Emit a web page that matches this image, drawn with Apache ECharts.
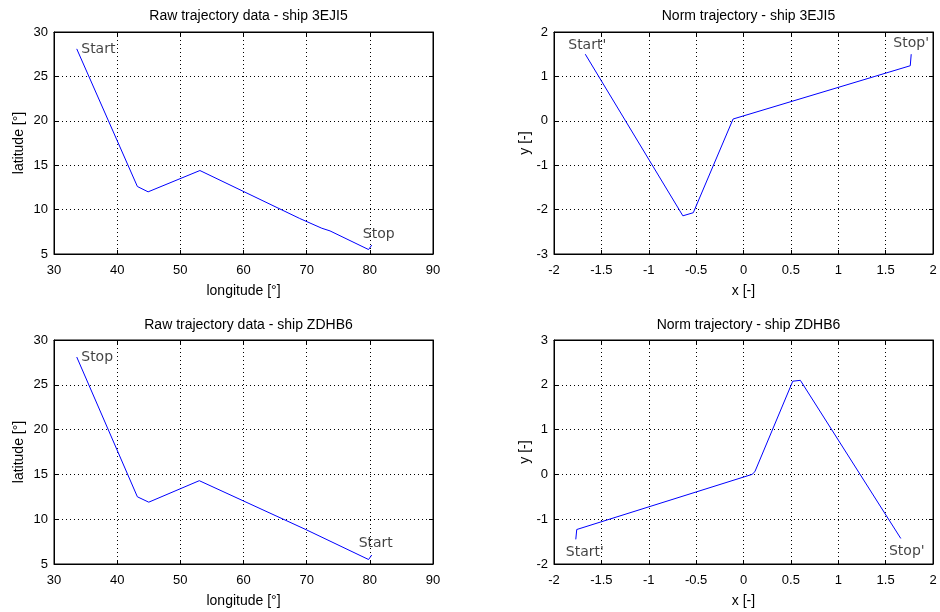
<!DOCTYPE html>
<html lang="en">
<head>
    <meta charset="UTF-8">
    <title>Trajectories</title>
    <script src="https://cdn.jsdelivr.net/npm/echarts@6/dist/echarts.min.js"></script>
</head>
<body style="margin:0;background:#fff">
<div id="echart" style="width:940px;height:612px"></div>
<script>
    // raw trajectory, ship 3EJI5
    var rawLonA = [33.6, 43.2, 44.9, 53.1, 68.9, 72.4, 73.7, 79.8, 80.3]
    var rawLatA = [28.1, 12.6, 12.0, 14.4, 9.0, 7.9, 7.6, 5.5, 6.0]
    // raw trajectory, ship ZDHB6
    var rawLonB = [33.6, 43.2, 45.0, 53.0, 70.0, 79.8, 80.3]
    var rawLatB = [28.1, 12.5, 11.9, 14.3, 8.8, 5.5, 6.0]
    // normalised trajectory, ship 3EJI5
    var normXA = [-1.67, -0.64, -0.53, -0.11, 1.76, 1.77]
    var normYA = [1.5, -2.14, -2.07, 0.04, 1.24, 1.5]
    // normalised trajectory, ship ZDHB6
    var normXB = [-1.77, -1.76, 0.09, 0.12, 0.52, 0.6, 1.66]
    var normYB = [-1.45, -1.23, 0.0, 0.06, 2.08, 2.1, -1.43]

    var titles = ['Raw trajectory data - ship 3EJI5', 'Norm trajectory - ship 3EJI5',
                  'Raw trajectory data - ship ZDHB6', 'Norm trajectory - ship ZDHB6']
    var endLabels = [['Start', 'Stop'], ["Start'", "Stop'"], ['Stop', 'Start'], ["Start'", "Stop'"]]

    var font = 'Liberation Sans'
    var labelFont = 'DejaVu Sans'
    var grids = [
        {left: 54, top: 32, width: 379, height: 222, titleTop: 4},
        {left: 554, top: 32, width: 379, height: 222, titleTop: 4},
        {left: 54, top: 340, width: 379, height: 224, titleTop: 313},
        {left: 554, top: 340, width: 379, height: 224, titleTop: 313}
    ]
    // [xmin, xmax, xstep, ymin, ymax, ystep, xname, yname, ynameGap]
    var axes = [
        [30, 90, 10, 5, 30, 5, 'longitude [°]', 'latitude [°]', 28],
        [-2, 2, 0.5, -3, 2, 1, 'x [-]', 'y [-]', 20],
        [30, 90, 10, 5, 30, 5, 'longitude [°]', 'latitude [°]', 28],
        [-2, 2, 0.5, -2, 3, 1, 'x [-]', 'y [-]', 20]
    ]
    // where the end labels sit: [position, offset] for first and last point
    var labelPos = [
        [['right', [1, 0]], ['top', [7, 0]]],
        [['top', [2, 2]], ['top', [0, 0]]],
        [['right', [1, 0]], ['top', [4, -1]]],
        [['bottom', [9, 2]], ['bottom', [6, 2]]]
    ]
    var xs = [rawLonA, normXA, rawLonB, normXB]
    var ys = [rawLatA, normYA, rawLatB, normYB]

    function line(k) {
        var d = []
        for (var i = 0; i < xs[k].length; i++) d.push([xs[k][i], ys[k][i]])
        return d
    }

    function ends(k) {
        var n = xs[k].length
        return [0, n - 1].map(function (i, w) {
            return {
                value: [xs[k][i], ys[k][i]],
                label: {
                    show: true,
                    formatter: endLabels[k][w],
                    position: labelPos[k][w][0],
                    offset: labelPos[k][w][1],
                    distance: 3,
                    color: '#111',
                    fontSize: 14,
                    fontFamily: labelFont
                }
            }
        })
    }

    var dotted = {color: '#000', width: 1, type: [1, 3]}
    var tick = {show: true, inside: true, length: 4, lineStyle: {color: '#000'}}
    var option = {
        animation: false,
        backgroundColor: '#fff',
        title: [], grid: [], xAxis: [], yAxis: [], series: []
    }
    for (var k = 0; k < 4; k++) {
        var g = grids[k], a = axes[k]
        option.title.push({
            text: titles[k],
            left: g.left + g.width / 2,
            textAlign: 'center',
            top: g.titleTop,
            textStyle: {fontSize: 14, fontWeight: 'normal', color: '#000', fontFamily: font}
        })
        option.grid.push({left: g.left, top: g.top, width: g.width, height: g.height,
            show: true, borderColor: '#000', borderWidth: 1, backgroundColor: '#fff'})
        option.xAxis.push({
            type: 'value', gridIndex: k, min: a[0], max: a[1], interval: a[2],
            name: a[6], nameLocation: 'middle', nameGap: 30,
            nameTextStyle: {fontSize: 14, color: '#000', fontFamily: font},
            axisLine: {show: true, onZero: false, lineStyle: {color: '#000'}},
            axisTick: tick,
            axisLabel: {fontSize: 13, color: '#000', fontFamily: font, margin: 10},
            splitLine: {show: true, lineStyle: dotted}
        })
        option.yAxis.push({
            type: 'value', gridIndex: k, min: a[3], max: a[4], interval: a[5],
            name: a[7], nameLocation: 'middle', nameGap: a[8], nameRotate: 90,
            nameTextStyle: {fontSize: 14, color: '#000', fontFamily: font},
            axisLine: {show: true, onZero: false, lineStyle: {color: '#000'}},
            axisTick: tick,
            axisLabel: {fontSize: 13, color: '#000', fontFamily: font, margin: 6},
            splitLine: {show: true, lineStyle: dotted}
        })
        option.series.push({
            type: 'line', xAxisIndex: k, yAxisIndex: k,
            data: line(k),
            showSymbol: false, symbol: 'none',
            lineStyle: {color: '#0000ff', width: 1},
            z: 5
        })
        option.series.push({
            type: 'scatter', xAxisIndex: k, yAxisIndex: k,
            data: ends(k),
            symbolSize: 1,
            itemStyle: {color: 'rgba(0,0,0,0)'},
            silent: true,
            z: 6
        })
    }
    // mirrored ticks on top and right edges (box on)
    for (var k = 0; k < 4; k++) {
        var a = axes[k]
        option.xAxis.push({
            type: 'value', gridIndex: k, position: 'top', min: a[0], max: a[1], interval: a[2],
            axisLine: {show: true, onZero: false, lineStyle: {color: '#000'}},
            axisTick: tick, axisLabel: {show: false}, splitLine: {show: false}
        })
        option.yAxis.push({
            type: 'value', gridIndex: k, position: 'right', min: a[3], max: a[4], interval: a[5],
            axisLine: {show: true, onZero: false, lineStyle: {color: '#000'}},
            axisTick: tick, axisLabel: {show: false}, splitLine: {show: false}
        })
    }

    var myChart = echarts.init(document.getElementById('echart'))
    myChart.setOption(option)
</script>
</body>
</html>
